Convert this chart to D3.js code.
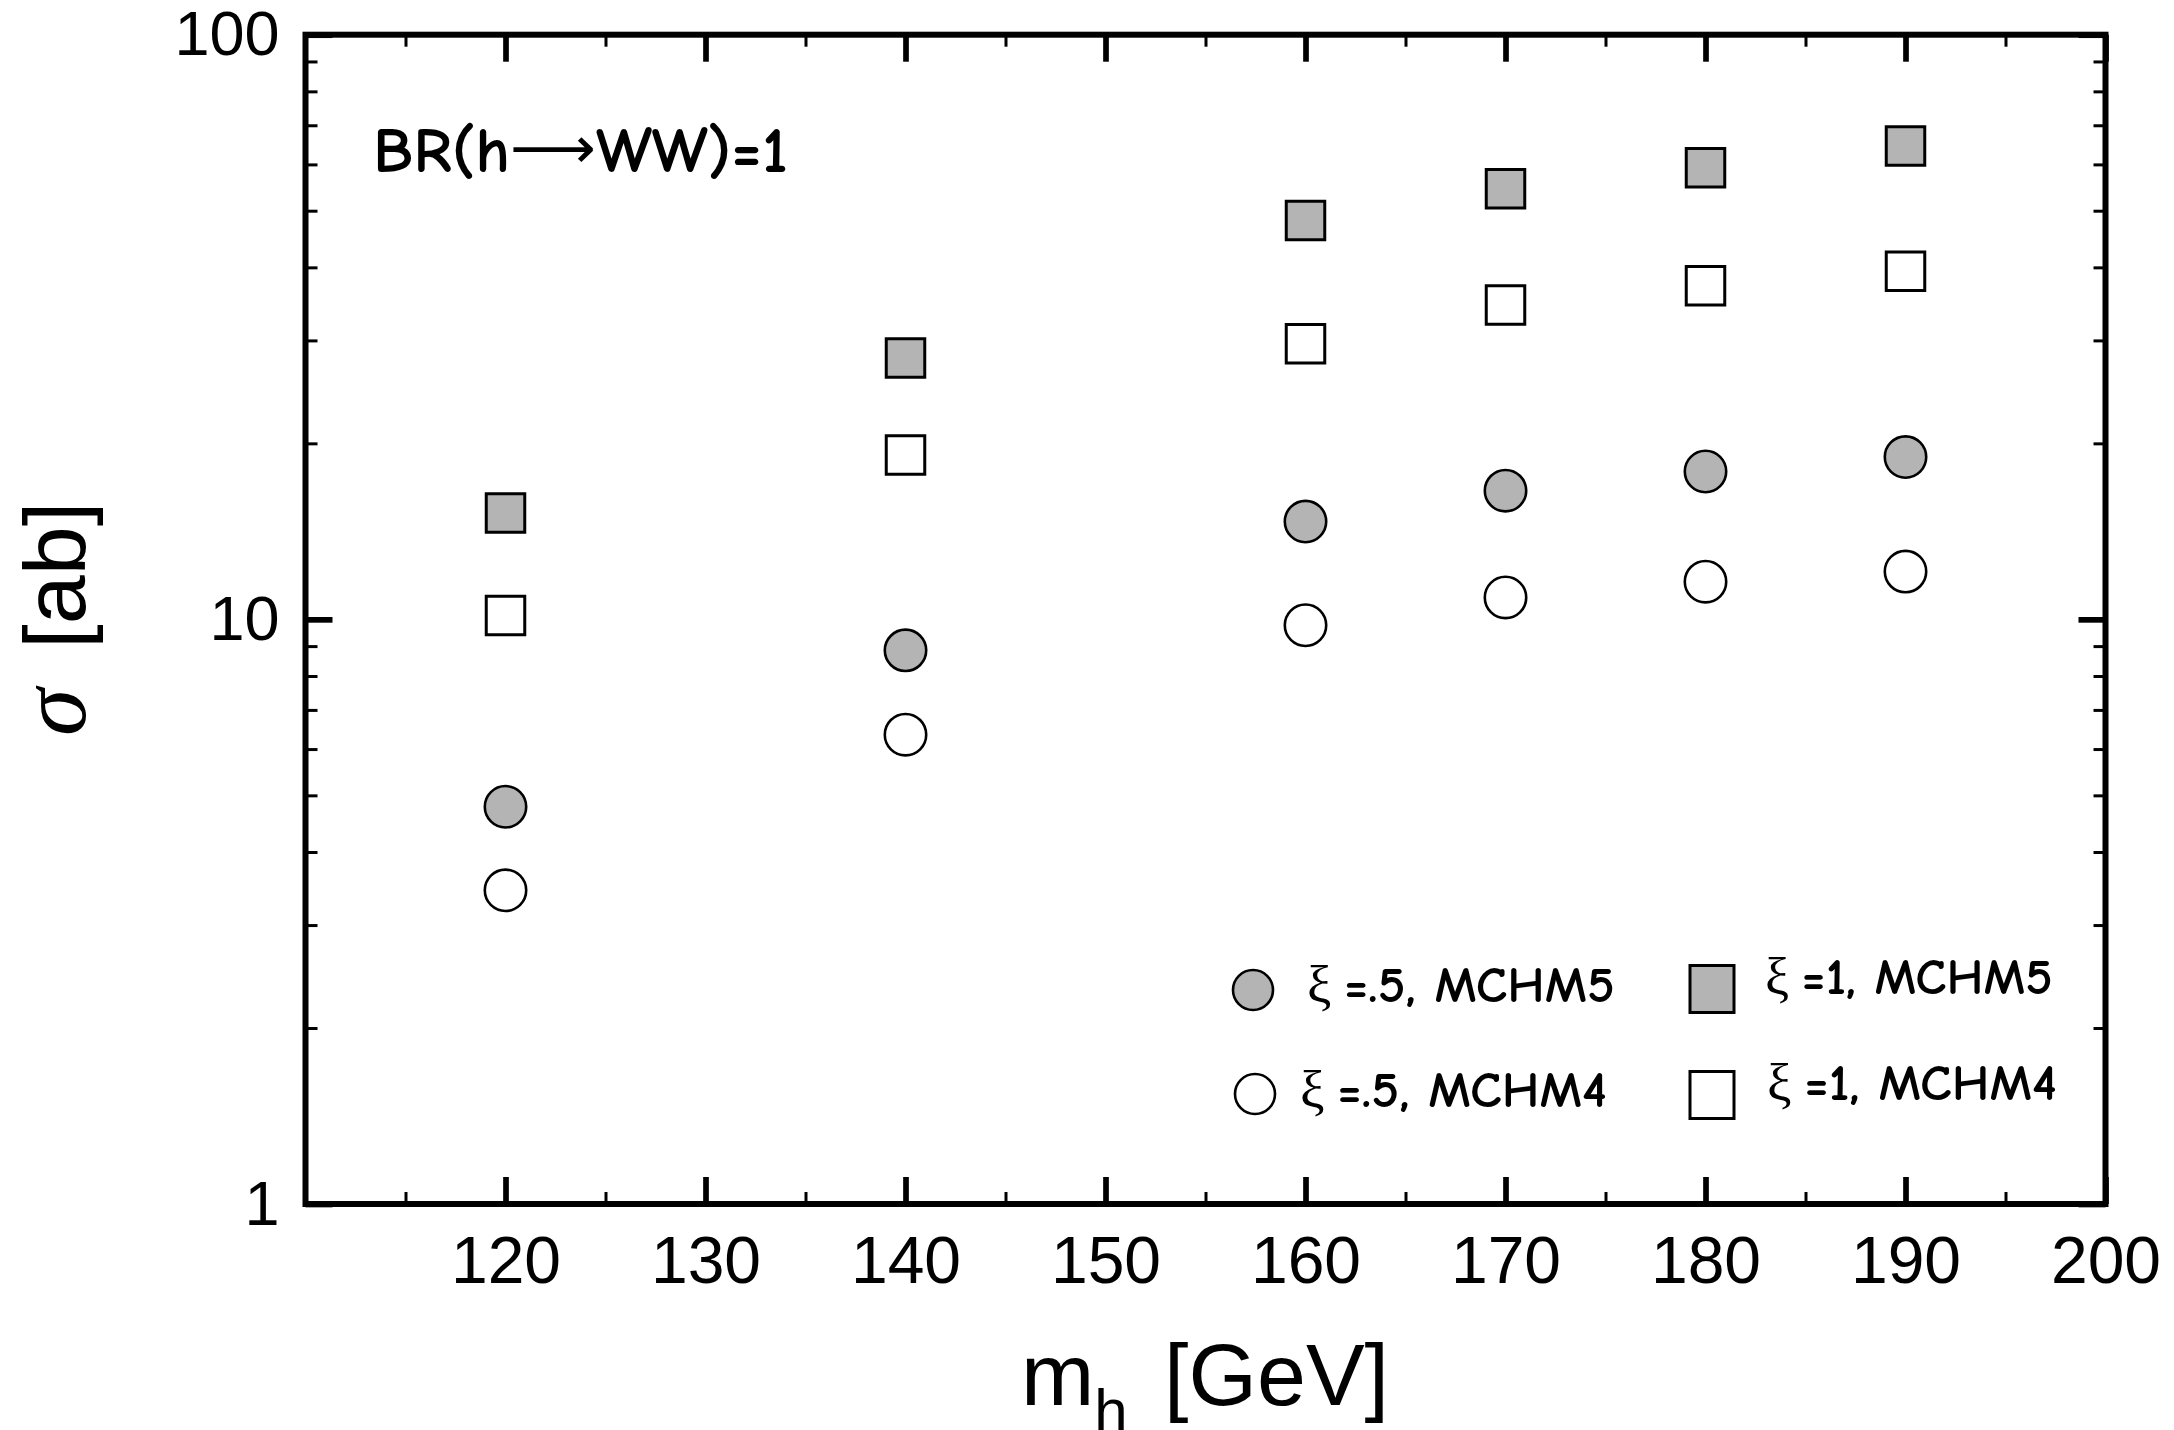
<!DOCTYPE html>
<html>
<head>
<meta charset="utf-8">
<script src="https://cdn.jsdelivr.net/npm/d3@7"></script>
<style>
  html, body { margin: 0; padding: 0; background: #fff; }
  svg { display: block; }
</style>
</head>
<body>
<svg id="chart" width="2174" height="1430"></svg>
<script>
// Higgs masses (GeV)
const masses = [120, 140, 160, 170, 180, 190];
// cross sections (ab), BR(h→WW)=1
const xiHalfMCHM5 = [4.78, 8.85, 14.7, 16.6, 17.9, 18.95];
const xiHalfMCHM4 = [3.44, 6.35, 9.77, 10.9, 11.6, 12.07];
const xiOneMCHM5  = [15.2, 28.0, 48.1, 54.5, 59.2, 64.5];
const xiOneMCHM4  = [10.15, 19.1, 29.6, 34.5, 37.2, 39.4];

const xMajorTicks = [120, 130, 140, 150, 160, 170, 180, 190, 200];
const xMinorTicks = [115, 125, 135, 145, 155, 165, 175, 185, 195];
const yMajorTicks = [1, 10, 100];
const yMinorTicks = [2, 3, 4, 5, 6, 7, 8, 9, 20, 30, 40, 50, 60, 70, 80, 90];

const svg = d3.select("#chart");
const L = 305.5, R = 2105.5, T = 34.7, B = 1204;
const GRAY = "#b4b4b4";
const NUM_FONT = "'Liberation Sans', Arial, Helvetica, sans-serif";
const HAND_FONT = "'Comic Sans MS', 'Comic Neue', 'Open Sans', sans-serif";
const SYM_FONT = "'Liberation Serif', 'DejaVu Serif', serif";

const x = d3.scaleLinear().domain([110, 200]).range([L, R]);
const y = d3.scaleLog().domain([1, 100]).range([B, T]);

// ---- ticks (all pointing into the frame) ----
function styleTicks(g, w) {
  g.select(".domain").remove();
  g.selectAll(".tick line").attr("stroke", "#000").attr("stroke-width", w);
}

svg.append("g").attr("transform", `translate(0,${B})`)
  .call(d3.axisBottom(x).tickValues(xMajorTicks).tickSizeInner(-27).tickSizeOuter(0)
        .tickPadding(32).tickFormat(d3.format("d")))
  .call(g => styleTicks(g, 5.7))
  .call(g => g.selectAll("text").attr("font-family", NUM_FONT).attr("font-size", 66).attr("fill", "#000"));
svg.append("g").attr("transform", `translate(0,${B})`)
  .call(d3.axisBottom(x).tickValues(xMinorTicks).tickSizeInner(-12).tickSizeOuter(0).tickFormat(""))
  .call(g => styleTicks(g, 3));
svg.append("g").attr("transform", `translate(0,${T})`)
  .call(d3.axisTop(x).tickValues(xMajorTicks).tickSizeInner(-27).tickSizeOuter(0).tickFormat(""))
  .call(g => styleTicks(g, 5.7));
svg.append("g").attr("transform", `translate(0,${T})`)
  .call(d3.axisTop(x).tickValues(xMinorTicks).tickSizeInner(-12).tickSizeOuter(0).tickFormat(""))
  .call(g => styleTicks(g, 3));

svg.append("g").attr("transform", `translate(${L},0)`)
  .call(d3.axisLeft(y).tickValues(yMajorTicks).tickSizeInner(-27).tickSizeOuter(0)
        .tickPadding(26).tickFormat(d3.format("d")))
  .call(g => styleTicks(g, 5.7))
  .call(g => g.selectAll("text").attr("font-family", NUM_FONT).attr("font-size", 63).attr("fill", "#000"));
svg.append("g").attr("transform", `translate(${L},0)`)
  .call(d3.axisLeft(y).tickValues(yMinorTicks).tickSizeInner(-12).tickSizeOuter(0).tickFormat(""))
  .call(g => styleTicks(g, 3));
svg.append("g").attr("transform", `translate(${R},0)`)
  .call(d3.axisRight(y).tickValues(yMajorTicks).tickSizeInner(-27).tickSizeOuter(0).tickFormat(""))
  .call(g => styleTicks(g, 5.7));
svg.append("g").attr("transform", `translate(${R},0)`)
  .call(d3.axisRight(y).tickValues(yMinorTicks).tickSizeInner(-12).tickSizeOuter(0).tickFormat(""))
  .call(g => styleTicks(g, 3));

// ---- frame ----
svg.append("rect").attr("x", L).attr("y", T).attr("width", R - L).attr("height", B - T)
  .attr("fill", "none").attr("stroke", "#000").attr("stroke-width", 6);

// ---- data markers ----
const square = d3.symbol().type(d3.symbolSquare).size(38.5 * 38.5);
function drawSquares(vals, fill) {
  svg.append("g").selectAll("path").data(masses.map((m, i) => [m, vals[i]])).join("path")
    .attr("d", square)
    .attr("transform", d => `translate(${x(d[0])},${y(d[1])})`)
    .attr("fill", fill).attr("stroke", "#000").attr("stroke-width", 3);
}
function drawCircles(vals, fill) {
  svg.append("g").selectAll("circle").data(masses.map((m, i) => [m, vals[i]])).join("circle")
    .attr("cx", d => x(d[0])).attr("cy", d => y(d[1])).attr("r", 20.7)
    .attr("fill", fill).attr("stroke", "#000").attr("stroke-width", 2.6);
}
drawSquares(xiOneMCHM5, GRAY);
drawSquares(xiOneMCHM4, "#fff");
drawCircles(xiHalfMCHM5, GRAY);
drawCircles(xiHalfMCHM4, "#fff");

// stretch a text horizontally so it spans [x0, x0 + w]
function fitText(t, x0, w) {
  const b = t.node().getBBox();
  const k = w / b.width;
  t.attr("transform", `translate(${x0},0) scale(${k},1) translate(${-b.x},0)`);
}

// ---- annotation ----
const br = svg.append("text").attr("x", 0).attr("y", 172)
  .attr("font-family", HAND_FONT).attr("font-weight", 600).attr("font-size", 64).attr("fill", "#000");
br.append("tspan").text("BR(h");
br.append("tspan").attr("font-family", "'DejaVu Sans', sans-serif").attr("font-weight", 400)
  .attr("font-size", 58).attr("dy", -4).text("⟶");
br.append("tspan").attr("dy", 4).text("WW)=1");
fitText(br, 373, 415);

// ---- legend ----
const legend = [
  { shape: "circle", fill: GRAY,   sx: 1253, sy: 990,  tx: 1307, ty: 1002, tw: 308, label: "=.5, MCHM5" },
  { shape: "circle", fill: "#fff", sx: 1255, sy: 1094, tx: 1300, ty: 1107, tw: 307, label: "=.5, MCHM4" },
  { shape: "square", fill: GRAY,   sx: 1712, sy: 989,  tx: 1765, ty: 994,  tw: 288, label: "=1, MCHM5" },
  { shape: "square", fill: "#fff", sx: 1712, sy: 1095, tx: 1767, ty: 1100, tw: 290, label: "=1, MCHM4" }
];
legend.forEach(d => {
  if (d.shape === "circle") {
    svg.append("circle").attr("cx", d.sx).attr("cy", d.sy).attr("r", 20)
      .attr("fill", d.fill).attr("stroke", "#000").attr("stroke-width", 2.6);
  } else {
    svg.append("rect").attr("x", d.sx - 22).attr("y", d.sy - 23.5).attr("width", 44).attr("height", 47)
      .attr("fill", d.fill).attr("stroke", "#000").attr("stroke-width", 3);
  }
  const t = svg.append("text").attr("x", 0).attr("y", d.ty)
    .attr("font-family", HAND_FONT).attr("font-weight", 600).attr("font-size", 50).attr("fill", "#000");
  t.append("tspan").attr("font-family", SYM_FONT).attr("font-weight", 400).attr("font-size", 52).text("ξ");
  t.append("tspan").attr("dx", 12).text(d.label);
  fitText(t, d.tx, d.tw);
});

// ---- axis titles ----
const xt = svg.append("text").attr("x", 1205).attr("y", 1405).attr("text-anchor", "middle")
  .attr("font-family", NUM_FONT).attr("font-size", 88).attr("fill", "#000");
xt.append("tspan").text("m");
xt.append("tspan").attr("font-size", 60).attr("dy", 26).text("h");
xt.append("tspan").attr("dy", -26).attr("dx", 12).text(" [GeV]");

const yt = svg.append("text").attr("transform", "translate(85,736) rotate(-90)")
  .attr("text-anchor", "start").attr("fill", "#000");
yt.append("tspan").attr("font-family", SYM_FONT).attr("font-style", "italic").attr("font-size", 96).text("σ");
yt.append("tspan").attr("font-family", NUM_FONT).attr("font-size", 88).attr("dx", 40).text("[ab]");
</script>
</body>
</html>
